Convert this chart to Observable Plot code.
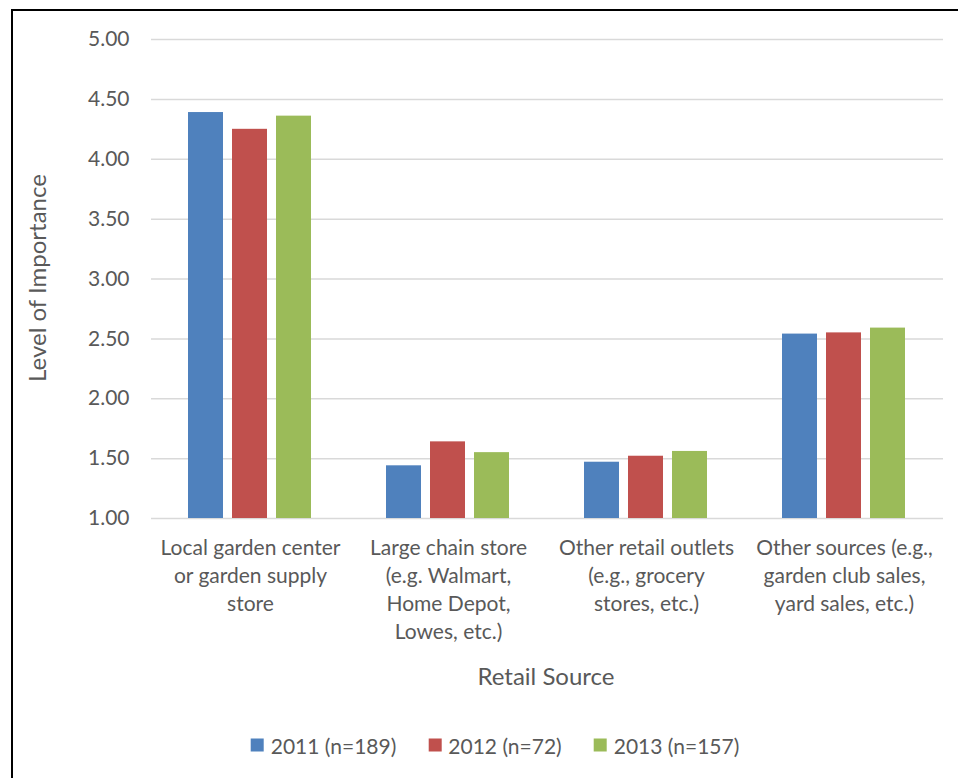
<!DOCTYPE html>
<html>
<head>
<meta charset="utf-8">
<script src="https://cdn.jsdelivr.net/npm/d3@7"></script>
<script src="https://cdn.jsdelivr.net/npm/@observablehq/plot@0.6"></script>
<style>
  html, body { margin: 0; padding: 0; background: #fff; }
  body { width: 958px; height: 778px; position: relative; overflow: hidden; font-family: Lato, "Open Sans", sans-serif; color: #595959; }
  #frame { position: absolute; left: 11px; top: 9px; width: 969px; height: 800px; border: 2px solid #000; box-sizing: border-box; }
  #chart { position: absolute; left: 0; top: 0; }
  #ytitle { position: absolute; left: 36px; top: 278px; transform: translate(-50%, -50%) rotate(-90deg); font-size: 24px; white-space: nowrap; }
  #xtitle { position: absolute; left: 546px; top: 675px; transform: translate(-50%, -50%); font-size: 24px; white-space: nowrap; }
  #legend { position: absolute; left: 495px; top: 745px; transform: translate(-50%, -50%); display: flex; gap: 32px; font-size: 21px; white-space: nowrap; }
  #legend .item { display: flex; align-items: center; gap: 7px; }
  #legend .sw { width: 13px; height: 13px; display: inline-block; }
</style>
</head>
<body>
<div id="frame"></div>
<div id="chart"></div>
<div id="ytitle">Level of Importance</div>
<div id="xtitle">Retail Source</div>
<div id="legend"></div>
<script>
// Retail sources (tick labels, with line breaks)
const categories = [
  "Local garden center\nor garden supply\nstore",
  "Large chain store\n(e.g. Walmart,\nHome Depot,\nLowes, etc.)",
  "Other retail outlets\n(e.g., grocery\nstores, etc.)",
  "Other sources (e.g.,\ngarden club sales,\nyard sales, etc.)"
];
const series = ["2011 (n=189)", "2012 (n=72)", "2013 (n=157)"];
const colors = ["#4f81bd", "#c0504d", "#9bbb59"];

// Mean level of importance per retail source
const values2011 = [4.39, 1.44, 1.47, 2.54];
const values2012 = [4.25, 1.64, 1.52, 2.55];
const values2013 = [4.36, 1.55, 1.56, 2.59];

const yTicks = [1.0, 1.5, 2.0, 2.5, 3.0, 3.5, 4.0, 4.5, 5.0];

const rows = [];
[values2011, values2012, values2013].forEach((vals, s) => {
  vals.forEach((v, i) => rows.push({category: categories[i], series: series[s], value: v}));
});

const chart = Plot.plot({
  width: 958,
  height: 660,
  marginTop: 39,
  marginBottom: 142,
  marginLeft: 150,
  marginRight: 15,
  style: {fontFamily: "Lato, 'Open Sans', sans-serif", fontSize: "21px", color: "#595959", background: "transparent"},
  fx: {domain: categories, padding: 0, label: null},
  x: {domain: series, paddingInner: 0.2, paddingOuter: 0.85, axis: null},
  y: {domain: [1, 5], label: null},
  color: {domain: series, range: colors},
  marks: [
    Plot.gridY(yTicks, {stroke: "#d9d9d9", strokeOpacity: 1, strokeWidth: 1.5}),
    Plot.barY(rows, {fx: "category", x: "series", y1: 1, y2: "value", fill: "series"}),
    Plot.axisY(yTicks, {tickFormat: ".2f", tickSize: 0, tickPadding: 22, fontSize: 21, label: null}),
    Plot.axisFx({anchor: "bottom", tickSize: 0, tickPadding: 17, lineHeight: 1.33, fontSize: 21, label: null})
  ]
});
document.getElementById("chart").appendChild(chart);

// Legend
const legend = document.getElementById("legend");
series.forEach((name, i) => {
  const item = document.createElement("div");
  item.className = "item";
  const sw = document.createElement("span");
  sw.className = "sw";
  sw.style.background = colors[i];
  const label = document.createElement("span");
  label.textContent = name;
  item.appendChild(sw);
  item.appendChild(label);
  legend.appendChild(item);
});
</script>
</body>
</html>
